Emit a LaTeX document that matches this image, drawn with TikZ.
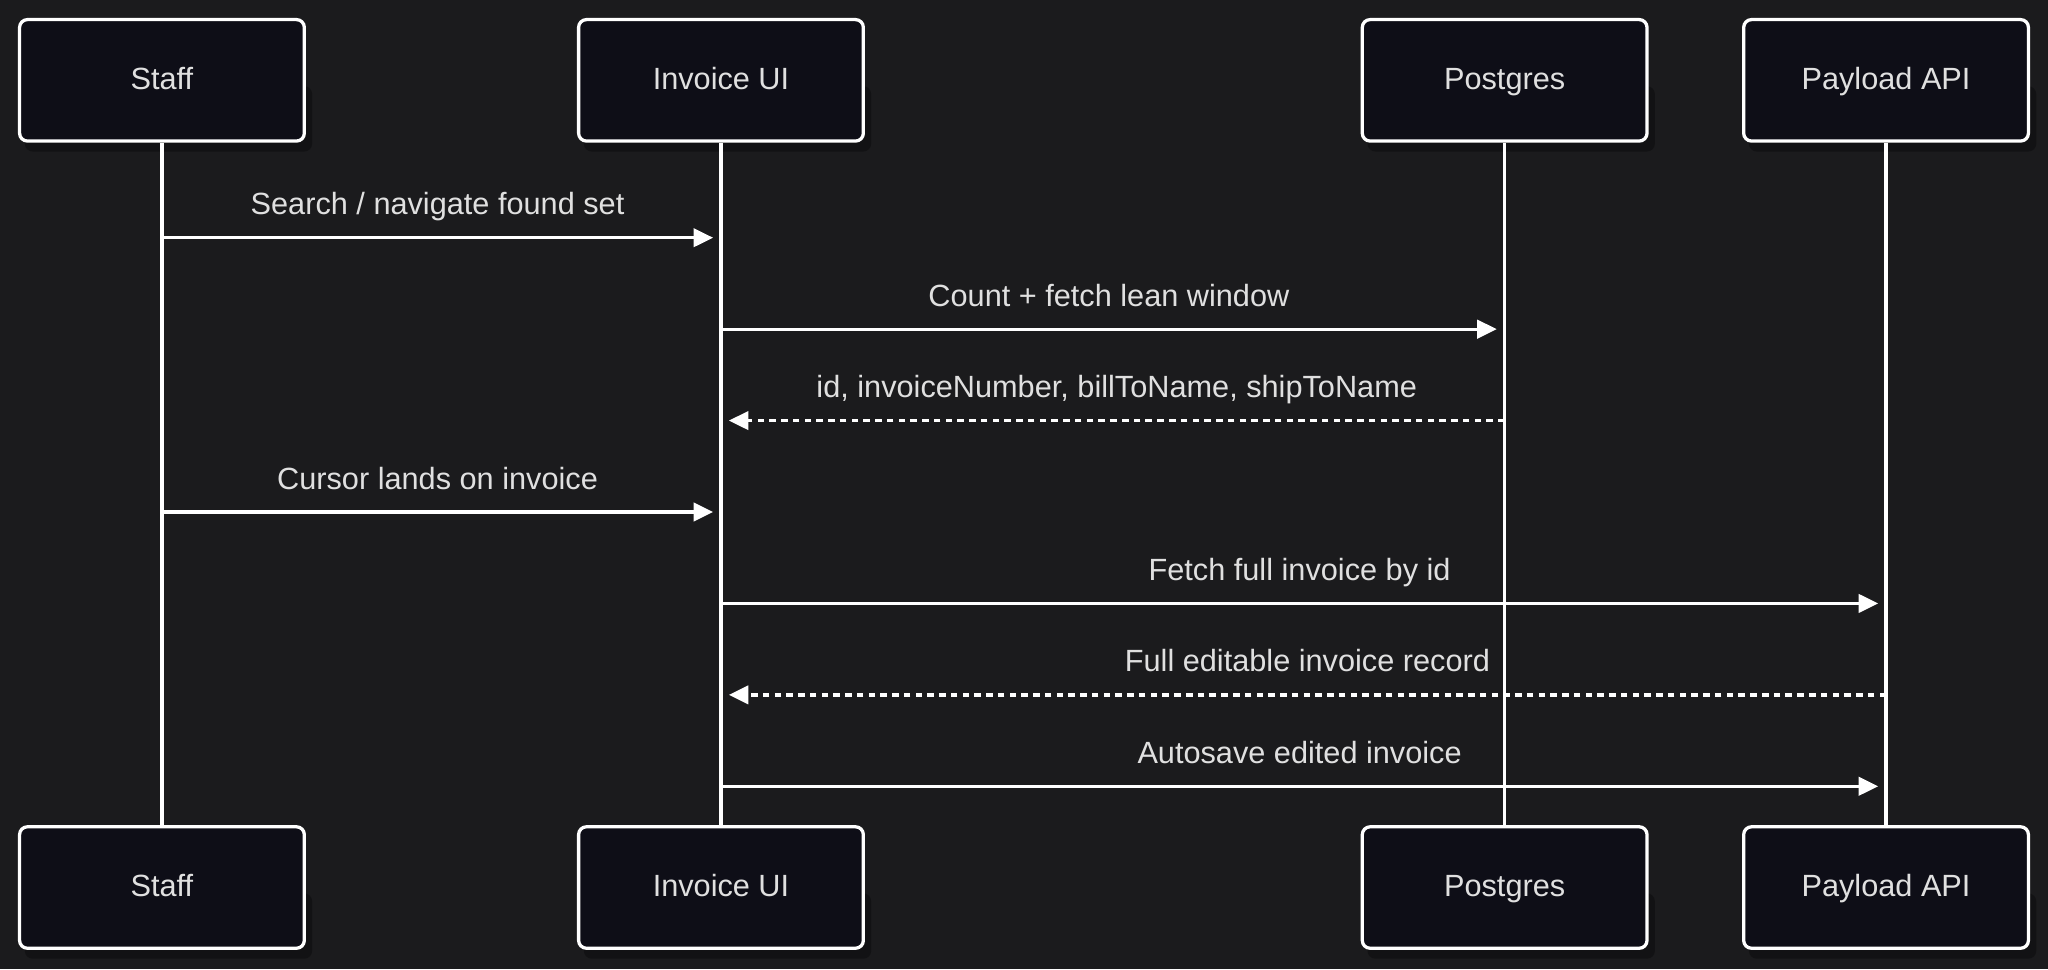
\documentclass[tikz,border=0pt]{standalone}
\usepackage{fontspec}
\setmainfont{Liberation Sans}
\usetikzlibrary{arrows.meta}
\definecolor{bg}{HTML}{1B1B1D}
\definecolor{boxfill}{HTML}{0E0E17}
\definecolor{txt}{HTML}{E0E0E0}
\begin{document}
\begin{tikzpicture}[x=1pt,y=-1pt,
  actor/.style={draw=white,line width=2.5pt,fill=boxfill,rounded corners=6pt,minimum width=218pt,minimum height=93pt,text=txt,font=\fontsize{23.5}{27}\selectfont,text height=16pt,text depth=2pt},
  life/.style={white,line width=2.5pt},
  msg/.style={white,line width=2.5pt,-{Triangle[length=15pt,width=14pt]}},
  reply/.style={msg,dash pattern=on 5pt off 4pt},
  lbl/.style={text=txt,font=\fontsize{23.5}{27}\selectfont,text height=16pt,text depth=5pt}]
\fill[bg] (0,0) rectangle (1568,742);
\foreach \n/\x/\t in {s/124/Staff,u/552/Invoice UI,p/1152/Postgres,a/1444/Payload API}{
  \fill[black,opacity=0.3,rounded corners=6pt] (\x-105,66) rectangle (\x+115,116);
  \fill[black,opacity=0.3,rounded corners=6pt] (\x-105,684) rectangle (\x+115,734);
  \node[actor] (\n t) at (\x,61.5) {\t};
  \node[actor] (\n b) at (\x,679.5) {\t};
  \draw[life] (\n t.south) -- (\n b.north);
}
\foreach \n/\x in {s/124,u/552,p/1152,a/1444}{
  \foreach \y in {182,252,322,392,462,532,602}{\coordinate (\n\y) at (\x,\y);}
}
\draw[msg] (s182) -- ([xshift=-6pt]u182) node[lbl,midway,above=8pt] {Search / navigate found set};
\draw[msg] (u252) -- ([xshift=-6pt]p252) node[lbl,midway,above=8pt] {Count + fetch lean window};
\draw[reply] (p322) -- ([xshift=6pt]u322) node[lbl,midway,above=8pt] {id, invoiceNumber, billToName, shipToName};
\draw[msg] (s392) -- ([xshift=-6pt]u392) node[lbl,midway,above=8pt] {Cursor lands on invoice};
\draw[msg] (u462) -- ([xshift=-6pt]a462) node[lbl,midway,above=8pt] {Fetch full invoice by id};
\draw[reply] (a532) -- ([xshift=6pt]u532) node[lbl,midway,above=8pt] {Full editable invoice record};
\draw[msg] (u602) -- ([xshift=-6pt]a602) node[lbl,midway,above=8pt] {Autosave edited invoice};
\end{tikzpicture}
\end{document}
